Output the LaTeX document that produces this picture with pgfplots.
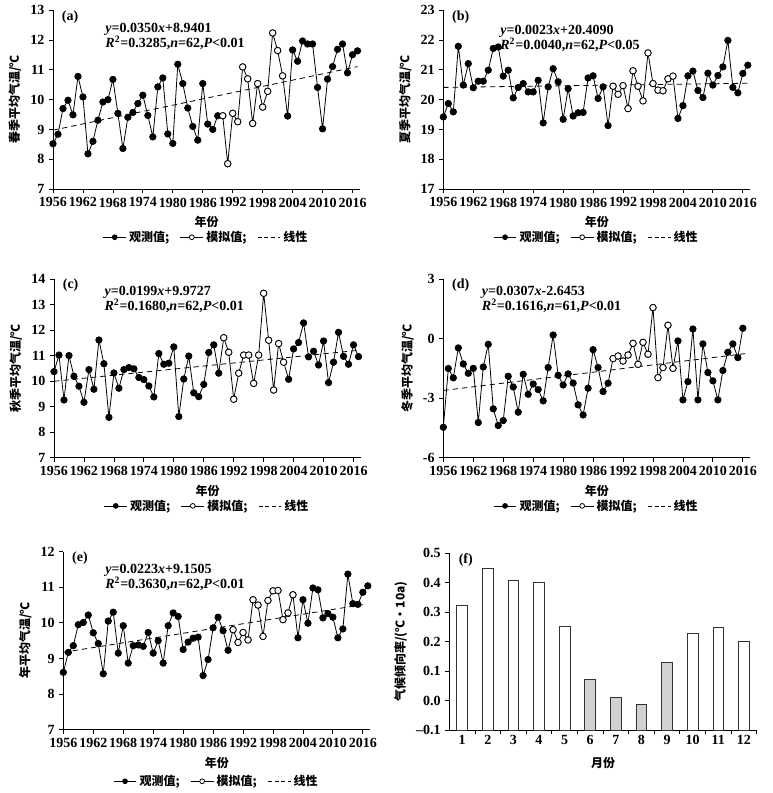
\documentclass[border=0pt]{standalone}
\usepackage{fontspec}
\setmainfont{Liberation Serif}
\newfontfamily\cjk{Noto Sans CJK SC}
\usepackage{pgfplots}
\usepackage{pgfplotstable}
\pgfplotsset{compat=1.18}

\pgfplotstableread{
year spring summer autumn winter annual
1956 8.52 19.42 10.37 -4.47 8.61
1957 8.84 19.87 11.02 -1.51 9.17
1958 9.70 19.59 9.26 -1.98 9.36
1959 9.98 21.79 11.00 -0.47 9.95
1960 9.49 20.49 10.19 -1.28 10.01
1961 10.78 21.21 9.80 -1.75 10.22
1962 10.09 20.40 9.17 -1.50 9.72
1963 8.18 20.62 10.45 -4.23 9.42
1964 8.60 20.62 9.68 -1.43 8.57
1965 9.31 20.99 11.61 -0.29 10.05
1966 9.92 21.72 10.68 -3.54 10.30
1967 10.00 21.77 8.58 -4.38 9.15
1968 10.68 20.79 10.32 -4.13 9.92
1969 9.54 20.99 9.72 -1.90 8.87
1970 8.36 20.06 10.45 -2.44 9.36
1971 9.41 20.41 10.53 -3.71 9.38
1972 9.57 20.54 10.48 -1.80 9.34
1973 9.87 20.26 10.14 -2.81 9.73
1974 10.15 20.26 10.06 -2.29 9.15
1975 9.47 20.65 9.81 -2.57 9.50
1976 8.75 19.22 9.38 -3.14 8.87
1977 10.43 20.43 11.08 -1.46 9.92
1978 10.73 21.04 10.66 0.18 10.28
1979 8.85 20.60 10.70 -1.85 10.18
1980 8.53 19.34 11.34 -2.34 9.25
1981 11.19 20.37 8.61 -1.78 9.46
1982 10.54 19.45 10.08 -2.24 9.57
1983 9.72 19.56 10.98 -3.34 9.60
1984 9.10 19.57 9.54 -3.85 8.52
1985 8.64 20.73 9.39 -2.50 8.97
1986 10.54 20.80 9.87 -0.56 9.86
1987 9.18 20.04 11.12 -1.46 10.16
1988 9.00 20.43 11.42 -2.67 9.78
1989 9.46 19.13 10.31 -2.25 9.23
1990 9.46 20.45 11.70 -1.01 9.81
1991 7.85 20.18 11.13 -0.88 9.45
1992 9.54 20.47 9.29 -1.13 9.73
1993 9.26 19.70 10.31 -0.83 9.52
1994 11.10 20.97 11.02 -0.24 10.65
1995 10.70 20.45 11.02 -1.30 10.50
1996 9.20 19.96 9.91 -0.19 9.62
1997 10.54 21.57 11.02 -0.79 10.63
1998 9.75 20.54 13.44 1.56 10.90
1999 10.28 20.32 11.60 -1.97 10.91
2000 12.24 20.30 9.65 -1.46 10.09
2001 11.65 20.70 11.47 0.67 10.28
2002 10.80 20.79 10.74 -1.50 10.79
2003 9.45 19.37 10.07 -0.12 9.58
2004 11.67 19.80 11.26 -3.09 10.65
2005 11.29 20.80 11.51 -2.17 9.99
2006 11.97 20.96 12.28 0.48 10.98
2007 11.87 20.31 10.95 -3.09 10.93
2008 11.87 20.07 11.17 -0.27 10.14
2009 10.41 20.89 10.63 -1.71 10.26
2010 9.02 20.49 11.57 -2.13 10.16
2011 10.69 20.81 9.94 -3.09 9.58
2012 11.11 21.10 10.74 -1.61 9.83
2013 11.69 21.99 11.91 -0.69 11.37
2014 11.87 20.41 10.97 -0.27 10.54
2015 10.90 20.23 10.66 -0.96 10.52
2016 11.51 20.88 11.42 0.52 10.86
2017 11.64 21.16 10.96 nan 11.04
}\tempdata

\newcommand{\tfont}{\fontsize{10.5}{12}\selectfont\bfseries}
\newcommand{\efont}{\fontsize{10.5}{11.5}\selectfont\bfseries}
\newcommand{\cfont}{\cjk\bfseries\fontsize{9}{10.5}\selectfont}

\tikzset{
 lab/.style={font=\efont, anchor=north west, inner sep=0pt},
 eqn/.style={font=\efont, anchor=north west, inner sep=0pt, align=left},
}

\pgfplotsset{
 base/.style={
  scale only axis, anchor=south west, clip=false,
  axis x line*=bottom, axis y line*=left,
  axis line style={line width=0.6pt},
  tick style={black, line width=0.6pt},
  tick align=outside, major tick length=3pt,
  /pgf/number format/assume math mode=true,
  /pgf/number format/1000 sep={},
  tick label style={font=\tfont},
  label style={font=\cfont},
 },
 lineaxis/.style={base, width=230.25pt, height=134pt,
  xmin=1956, xmax=2017.5, xtick={1956,1962,...,2016},
  xlabel={年份},
  legend style={at={(0.5,-0.27)}, anchor=center, draw=none, fill=none,
   legend columns=3, font=\cfont,
   /tikz/every even column/.append style={column sep=6pt}},
 },
 obs/.style={black, line width=0.6pt, mark=*, mark size=2.4pt, mark options={solid, fill=black}},
 simm/.style={only marks, mark=*, mark size=2.4pt, mark options={draw=black, fill=white, line width=0.6pt}},
 trend/.style={black, line width=0.6pt, dash pattern=on 4pt off 3pt},
}

\newcommand{\mylegend}{%
 \addlegendimage{black, line width=0.6pt, mark=*, mark size=1.8pt}\addlegendentry{观测值;}
 \addlegendimage{black, line width=0.6pt, mark=*, mark size=1.8pt, mark options={fill=white}}\addlegendentry{模拟值;}
 \addlegendimage{black, line width=0.6pt, dash pattern=on 3pt off 2pt}\addlegendentry{线性}
}

\begin{document}
\begin{tikzpicture}
\useasboundingbox (0,0) rectangle (579pt,594.75pt);

% (a)
\begin{axis}[lineaxis, at={(39.75pt,453pt)}, ymin=7, ymax=13, ytick={7,...,13},
  ylabel={春季平均气温/℃}]
\mylegend
\addplot[trend, forget plot] coordinates {(1956,8.9751) (2017,11.1101)};
\addplot[obs, forget plot] table[x=year,y=spring]{\tempdata};
\addplot[simm, forget plot, restrict x to domain=1990:2002] table[x=year,y=spring]{\tempdata};
\node[lab] at (rel axis cs:0.028,1) {(a)};
\node[eqn] at (rel axis cs:0.17,0.93) {\textit{y}=0.0350\textit{x}+8.9401\\\textit{R}\textsuperscript{2}=0.3285,\textit{n}=62,\textit{P}<0.01};
\end{axis}

% (b)
\begin{axis}[lineaxis, at={(332.5pt,453pt)}, ymin=17, ymax=23, ytick={17,...,23},
  ylabel={夏季平均气温/℃}]
\mylegend
\addplot[trend, forget plot] coordinates {(1956,20.4113) (2017,20.5516)};
\addplot[obs, forget plot] table[x=year,y=summer]{\tempdata};
\addplot[simm, forget plot, restrict x to domain=1990:2002] table[x=year,y=summer]{\tempdata};
\node[lab] at (rel axis cs:0.028,1) {(b)};
\node[eqn] at (rel axis cs:0.185,0.918) {\textit{y}=0.0023\textit{x}+20.4090\\\textit{R}\textsuperscript{2}=0.0040,\textit{n}=62,\textit{P}<0.05};
\end{axis}

% (c)
\begin{axis}[lineaxis, at={(40.5pt,251.5pt)}, ymin=7, ymax=14, ytick={7,...,14},
  ylabel={秋季平均气温/℃}]
\mylegend
\addplot[trend, forget plot] coordinates {(1956,9.9926) (2017,11.2065)};
\addplot[obs, forget plot] table[x=year,y=autumn]{\tempdata};
\addplot[simm, forget plot, restrict x to domain=1990:2002] table[x=year,y=autumn]{\tempdata};
\node[lab] at (rel axis cs:0.028,1) {(c)};
\node[eqn] at (rel axis cs:0.164,0.963) {\textit{y}=0.0199\textit{x}+9.9727\\\textit{R}\textsuperscript{2}=0.1680,\textit{n}=62,\textit{P}<0.01};
\end{axis}

% (d)
\begin{axis}[lineaxis, at={(332.5pt,251.5pt)}, ymin=-6, ymax=3, ytick={-6,-3,0,3},
  ylabel={冬季平均气温/℃}]
\mylegend
\addplot[trend, forget plot] coordinates {(1956,-2.6146) (2017,-0.7419)};
\addplot[obs, forget plot] table[x=year,y=winter]{\tempdata};
\addplot[simm, forget plot, restrict x to domain=1990:2002] table[x=year,y=winter]{\tempdata};
\node[lab] at (rel axis cs:0.028,1) {(d)};
\node[eqn] at (rel axis cs:0.125,0.963) {\textit{y}=0.0307\textit{x}-2.6453\\\textit{R}\textsuperscript{2}=0.1616,\textit{n}=61,\textit{P}<0.01};
\end{axis}

% (e)
\begin{axis}[lineaxis, at={(47.5pt,47.5pt)}, height=133.5pt, ymin=7, ymax=12, ytick={7,...,12},
  ylabel={年平均气温/℃}, legend style={at={(0.5,-0.29)}}]
\mylegend
\addplot[trend, forget plot] coordinates {(1956,9.1728) (2016,10.5108)};
\addplot[obs, forget plot] table[x=year,y=annual]{\tempdata};
\addplot[simm, forget plot, restrict x to domain=1990:2002] table[x=year,y=annual]{\tempdata};
\node[lab] at (rel axis cs:0.028,1) {(e)};
\node[eqn] at (rel axis cs:0.136,0.933) {\textit{y}=0.0223\textit{x}+9.1505\\\textit{R}\textsuperscript{2}=0.3630,\textit{n}=62,\textit{P}<0.01};
\end{axis}

% (f)
\begin{axis}[base, at={(337pt,47pt)}, width=230.5pt, height=133pt,
  xmin=0.5, xmax=12.5, ymin=0, ymax=0.6,
  ytick={0,0.1,0.2,0.3,0.4,0.5,0.6},
  yticklabels={--0.1,0.0,0.1,0.2,0.3,0.4,0.5},
  xtick={1.5,2.5,...,12.5}, xticklabels={},
  extra x ticks={1,2,3,4,5,6,7,8,9,10,11,12},
  extra x tick labels={1,2,3,4,5,6,7,8,9,10,11,12},
  extra x tick style={major tick length=0pt},
  xlabel={月份}, ylabel={气候倾向率/(℃·10a)}]
\addplot[ybar, bar width=8pt, bar shift=0pt, fill=white, draw=black!80, line width=0.6pt,
  y filter/.expression={y+0.1}]
  coordinates {(1,0.322) (2,0.449) (3,0.408) (4,0.401) (5,0.252) (10,0.227) (11,0.249) (12,0.201)};
\addplot[ybar, bar width=8pt, bar shift=0pt, fill=black!18, draw=black!80, line width=0.6pt,
  y filter/.expression={y+0.1}]
  coordinates {(6,0.073) (7,0.012) (8,-0.011) (9,0.129)};
\node[lab] at (rel axis cs:0.03,1) {(f)};
\end{axis}
\end{tikzpicture}
\end{document}
